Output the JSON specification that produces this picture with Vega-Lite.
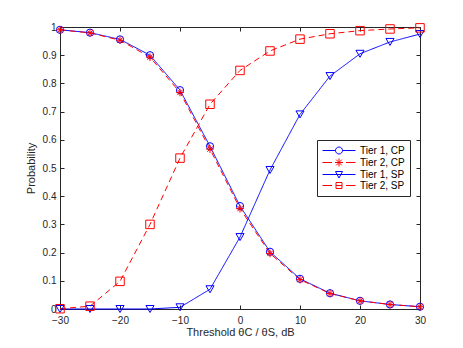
{
  "$schema": "https://vega.github.io/schema/vega-lite/v6.json",
  "width": 360,
  "height": 282,
  "autosize": "none",
  "padding": {"left": 60, "top": 27, "right": 43, "bottom": 39},
  "background": "white",
  "data": {
    "values": [
      {"x": -30, "series": "Tier 1, CP", "p": 0.99},
      {"x": -25, "series": "Tier 1, CP", "p": 0.98},
      {"x": -20, "series": "Tier 1, CP", "p": 0.956},
      {"x": -15, "series": "Tier 1, CP", "p": 0.9},
      {"x": -10, "series": "Tier 1, CP", "p": 0.776},
      {"x": -5, "series": "Tier 1, CP", "p": 0.577},
      {"x": 0, "series": "Tier 1, CP", "p": 0.365},
      {"x": 5, "series": "Tier 1, CP", "p": 0.203},
      {"x": 10, "series": "Tier 1, CP", "p": 0.107},
      {"x": 15, "series": "Tier 1, CP", "p": 0.056},
      {"x": 20, "series": "Tier 1, CP", "p": 0.029},
      {"x": 25, "series": "Tier 1, CP", "p": 0.016},
      {"x": 30, "series": "Tier 1, CP", "p": 0.008},
      {"x": -30, "series": "Tier 2, CP", "p": 0.99},
      {"x": -25, "series": "Tier 2, CP", "p": 0.979},
      {"x": -20, "series": "Tier 2, CP", "p": 0.953},
      {"x": -15, "series": "Tier 2, CP", "p": 0.893},
      {"x": -10, "series": "Tier 2, CP", "p": 0.768},
      {"x": -5, "series": "Tier 2, CP", "p": 0.567},
      {"x": 0, "series": "Tier 2, CP", "p": 0.356},
      {"x": 5, "series": "Tier 2, CP", "p": 0.197},
      {"x": 10, "series": "Tier 2, CP", "p": 0.104},
      {"x": 15, "series": "Tier 2, CP", "p": 0.055},
      {"x": 20, "series": "Tier 2, CP", "p": 0.029},
      {"x": 25, "series": "Tier 2, CP", "p": 0.016},
      {"x": 30, "series": "Tier 2, CP", "p": 0.008},
      {"x": -30, "series": "Tier 1, SP", "p": 0.0},
      {"x": -25, "series": "Tier 1, SP", "p": 0.0},
      {"x": -20, "series": "Tier 1, SP", "p": 0.0},
      {"x": -15, "series": "Tier 1, SP", "p": 0.0},
      {"x": -10, "series": "Tier 1, SP", "p": 0.006},
      {"x": -5, "series": "Tier 1, SP", "p": 0.07},
      {"x": 0, "series": "Tier 1, SP", "p": 0.255},
      {"x": 5, "series": "Tier 1, SP", "p": 0.493},
      {"x": 10, "series": "Tier 1, SP", "p": 0.69},
      {"x": 15, "series": "Tier 1, SP", "p": 0.826},
      {"x": 20, "series": "Tier 1, SP", "p": 0.905},
      {"x": 25, "series": "Tier 1, SP", "p": 0.947},
      {"x": 30, "series": "Tier 1, SP", "p": 0.975},
      {"x": -30, "series": "Tier 2, SP", "p": 0.001},
      {"x": -25, "series": "Tier 2, SP", "p": 0.01},
      {"x": -20, "series": "Tier 2, SP", "p": 0.098},
      {"x": -15, "series": "Tier 2, SP", "p": 0.3},
      {"x": -10, "series": "Tier 2, SP", "p": 0.535},
      {"x": -5, "series": "Tier 2, SP", "p": 0.726},
      {"x": 0, "series": "Tier 2, SP", "p": 0.846},
      {"x": 5, "series": "Tier 2, SP", "p": 0.915},
      {"x": 10, "series": "Tier 2, SP", "p": 0.957},
      {"x": 15, "series": "Tier 2, SP", "p": 0.976},
      {"x": 20, "series": "Tier 2, SP", "p": 0.987},
      {"x": 25, "series": "Tier 2, SP", "p": 0.993},
      {"x": 30, "series": "Tier 2, SP", "p": 0.997}
    ]
  },
  "resolve": {
    "scale": {"shape": "independent", "color": "independent", "size": "independent"},
    "axis": {"x": "independent", "y": "independent"}
  },
  "layer": [
    {
      "mark": {"type": "line", "strokeWidth": 1, "clip": false},
      "encoding": {
        "x": {
          "field": "x", "type": "quantitative",
          "scale": {"domain": [-30, 30], "nice": false},
          "axis": {"orient": "bottom", "values": [-30, -20, -10, 0, 10, 20, 30], "title": "Threshold θC / θS, dB", "labelFlush": false, "labelPadding": 10, "titlePadding": 1}
        },
        "y": {
          "field": "p", "type": "quantitative",
          "scale": {"domain": [0, 1], "nice": false},
          "axis": {"orient": "left", "values": [0, 0.1, 0.2, 0.3, 0.4, 0.5, 0.6, 0.7, 0.8, 0.9, 1], "format": "~g", "title": "Probability", "labelFlush": false, "labelPadding": 8, "titlePadding": 6}
        },
        "color": {
          "field": "series", "type": "nominal",
          "scale": {"domain": ["Tier 1, CP", "Tier 2, CP", "Tier 1, SP", "Tier 2, SP"], "range": ["#0000ff", "#ff0000", "#0000ff", "#ff0000"]},
          "legend": null
        },
        "strokeDash": {
          "field": "series", "type": "nominal",
          "scale": {"domain": ["Tier 1, CP", "Tier 2, CP", "Tier 1, SP", "Tier 2, SP"], "range": [[1, 0], [6, 4], [1, 0], [6, 4]]},
          "legend": null
        },
        "order": {"field": "x", "type": "quantitative"}
      }
    },
    {
      "mark": {"type": "point", "filled": false, "strokeWidth": 1, "opacity": 1, "clip": false},
      "encoding": {
        "x": {"field": "x", "type": "quantitative", "axis": null},
        "y": {"field": "p", "type": "quantitative", "axis": null},
        "color": {
          "field": "series", "type": "nominal",
          "scale": {"domain": ["Tier 1, CP", "Tier 2, CP", "Tier 1, SP", "Tier 2, SP"], "range": ["#0000ff", "#ff0000", "#0000ff", "#ff0000"]},
          "legend": null
        },
        "shape": {
          "field": "series", "type": "nominal",
          "scale": {"domain": ["Tier 1, CP", "Tier 2, CP", "Tier 1, SP", "Tier 2, SP"], "range": ["circle", "M0,-1L0,1M-1,0L1,0M-0.7,-0.7L0.7,0.7M-0.7,0.7L0.7,-0.7", "triangle-down", "square"]},
          "legend": null
        },
        "size": {
          "field": "series", "type": "nominal",
          "scale": {"domain": ["Tier 1, CP", "Tier 2, CP", "Tier 1, SP", "Tier 2, SP"], "range": [52, 72, 60, 42]},
          "legend": null
        }
      }
    },
    {
      "mark": {"type": "point", "filled": false, "strokeWidth": 1, "opacity": 0, "size": 100},
      "encoding": {
        "x": {"field": "x", "type": "quantitative", "axis": {"orient": "top", "labels": false, "title": null, "domain": false, "values": [-30, -20, -10, 0, 10, 20, 30]}},
        "y": {"field": "p", "type": "quantitative", "axis": {"orient": "right", "labels": false, "title": null, "domain": false, "values": [0, 0.1, 0.2, 0.3, 0.4, 0.5, 0.6, 0.7, 0.8, 0.9, 1]}},
        "color": {
          "field": "series", "type": "nominal",
          "scale": {"domain": ["Tier 1, CP", "Tier 2, CP", "Tier 1, SP", "Tier 2, SP"], "range": ["#0000ff", "#ff0000", "#0000ff", "#ff0000"]},
          "legend": {
            "title": null, "orient": "none", "legendX": 257, "legendY": 113,
            "strokeColor": "#262626", "fillColor": "white", "padding": 5,
            "symbolSize": 100, "symbolOpacity": 1, "symbolStrokeWidth": 1,
            "labelFont": "Liberation Sans", "labelFontSize": 10, "labelColor": "#000000",
            "labelOffset": 27, "rowPadding": 0
          }
        },
        "shape": {
          "field": "series", "type": "nominal",
          "scale": {"domain": ["Tier 1, CP", "Tier 2, CP", "Tier 1, SP", "Tier 2, SP"], "range": [
            "M-1,0L1.6,0M3,0L5.6,0M1.6,0A0.7,0.7,0,1,0,3,0A0.7,0.7,0,1,0,1.6,0",
            "M-1,0L0.9,0M3.7,0L5.6,0M2.3,-0.8L2.3,0.8M1.5,0L3.1,0M1.73,-0.57L2.87,0.57M1.73,0.57L2.87,-0.57",
            "M-1,0L5.6,0M1.6,-0.6L3,-0.6L2.3,0.7Z",
            "M-1,0L0.9,0M3.7,0L5.6,0M1.7,-0.6L2.9,-0.6L2.9,0.6L1.7,0.6ZM1.7,0L2.9,0"
          ]},
          "legend": {
            "title": null, "orient": "none", "legendX": 257, "legendY": 113,
            "strokeColor": "#262626", "fillColor": "white", "padding": 5,
            "symbolSize": 100, "symbolOpacity": 1, "symbolStrokeWidth": 1,
            "labelFont": "Liberation Sans", "labelFontSize": 10, "labelColor": "#000000",
            "labelOffset": 27, "rowPadding": 0
          }
        }
      }
    }
  ],
  "config": {
    "view": {"stroke": "#262626", "strokeWidth": 1},
    "axis": {
      "domainColor": "#262626", "tickColor": "#262626", "labelColor": "#262626", "titleColor": "#262626",
      "labelFont": "Liberation Sans", "titleFont": "Liberation Sans",
      "labelFontSize": 10, "titleFontSize": 11, "titleFontWeight": "normal",
      "grid": false, "tickSize": -4, "tickWidth": 1, "domainWidth": 1
    }
  }
}
